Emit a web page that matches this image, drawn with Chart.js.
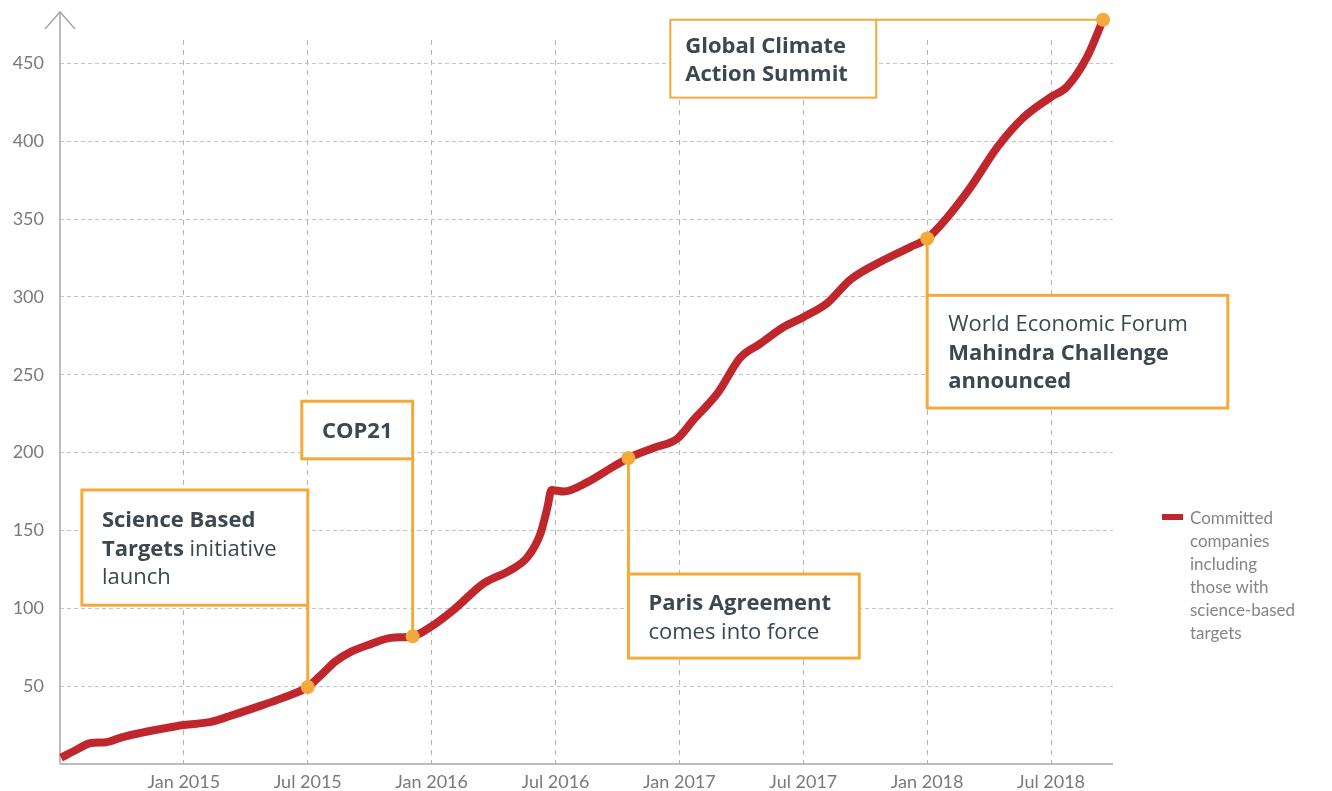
<!DOCTYPE html>
<html>
<head>
<meta charset="utf-8">
<script src="https://cdn.jsdelivr.net/npm/chart.js@4/dist/chart.umd.min.js"></script>
<style>
  body { margin: 0; background: #fff; font-family: Lato, sans-serif; }
  #wrap { position: relative; width: 1332px; height: 791px; }
  #legend { position: absolute; left: 1162px; top: 506px; display: flex; align-items: flex-start; }
  #legend .swatch { width: 21px; height: 6px; background: #c0272d; margin-top: 8px; margin-right: 7px; }
  #legend .txt { font-size: 17px; line-height: 23px; color: #858585; }
</style>
</head>
<body>
<div id="wrap">
  <canvas id="chart"></canvas>
  <div id="legend">
    <span class="swatch"></span>
    <div class="txt">Committed<br>companies<br>including<br>those with<br>science-based<br>targets</div>
  </div>
</div>
<script>
// x values are months counted from Jan 2014 (12 = Jan 2015)
const months = [6.05, 6.77, 7.5, 8.23, 8.95, 9.92, 10.89, 12, 13.3, 14.27, 15.73, 16.69, 18,
  18.63, 19.35, 20.08, 21.05, 22.02, 23.08, 23.95, 25.06, 26.52, 27.82, 28.65, 29.27, 29.61,
  29.8, 30.39, 31.55, 32.8, 33.53, 34.74, 35.9, 36.68, 37.84, 38.95, 39.92, 41.03, 42, 43.16,
  44.27, 45.87, 47.18, 48, 48.97, 50.08, 51.39, 52.64, 53.95, 54.77, 55.74, 56.52];
const companies = [4, 9, 13.5, 14, 17, 20, 22.5, 25, 27, 31, 37.5, 42, 49.5,
  57, 66, 72, 77, 81, 82, 88, 99, 116, 124.5, 133, 148, 165,
  176, 175, 181, 191, 196.5, 203, 209, 221, 238, 261, 270, 280.5, 287, 296,
  311, 323.5, 332, 337.5, 351, 370, 396, 415, 428, 435, 454, 478];

const xTickMonths = [12, 18, 24, 30, 36, 42, 48, 54];
const xTickLabels = ['Jan 2015', 'Jul 2015', 'Jan 2016', 'Jul 2016', 'Jan 2017', 'Jul 2017', 'Jan 2018', 'Jul 2018'];
const yTickValues = [50, 100, 150, 200, 250, 300, 350, 400, 450];

// milestones on the curve
const eventMonths = [18, 23.08, 33.53, 48, 56.52];
const eventValues = [49.5, 82, 196.5, 337.5, 478];

const orange = '#f4aa3a';
const red = '#c0272d';
const noteFont = '"Open Sans"';

// callout boxes in data units: [left month, right month, top value, bottom value]
const callouts = [
  { box: [7.06, 18, 176, 102], link: 'v', pad: 20, align: 'left',
    lines: [[['Science Based', true]], [['Targets', true], [' initiative', false]], [['launch', false]]] },
  { box: [17.71, 23.08, 233, 196], link: 'v', pad: 0, align: 'center',
    lines: [[['COP21', true]]] },
  { box: [33.53, 44.71, 122, 68], link: 'v', pad: 20, align: 'left',
    lines: [[['Paris Agreement', true]], [['comes into force', false]]] },
  { box: [48, 62.56, 301, 228.6], link: 'v', pad: 21, align: 'left',
    lines: [[['World Economic Forum', false]], [['Mahindra Challenge', true]], [['announced', true]]] },
  { box: [35.56, 45.53, 478, 428], link: 'h', pad: 15, align: 'left',
    lines: [[['Global Climate', true]], [['Action Summit', true]]] }
];

const axesAndNotes = {
  id: 'axesAndNotes',
  beforeDatasetsDraw(chart) {
    const { ctx, chartArea: a } = chart;
    ctx.save();
    ctx.strokeStyle = '#a8a8a8';
    ctx.lineWidth = 1.5;
    ctx.beginPath();
    ctx.moveTo(a.left, a.bottom);
    ctx.lineTo(a.left, a.top - 28);
    ctx.moveTo(a.left - 15, a.top - 11);
    ctx.lineTo(a.left, a.top - 28);
    ctx.lineTo(a.left + 15, a.top - 11);
    ctx.moveTo(a.left, a.bottom);
    ctx.lineTo(a.right, a.bottom);
    ctx.stroke();
    ctx.restore();
  },
  afterDatasetsDraw(chart) {
    const { ctx, scales: { x, y } } = chart;
    ctx.save();
    callouts.forEach((c, i) => {
      const px = x.getPixelForValue(eventMonths[i]);
      const py = y.getPixelForValue(eventValues[i]);
      const l = x.getPixelForValue(c.box[0]), r = x.getPixelForValue(c.box[1]);
      const t = y.getPixelForValue(c.box[2]), b = y.getPixelForValue(c.box[3]);

      ctx.strokeStyle = orange;
      ctx.lineWidth = 3;
      ctx.beginPath();
      if (c.link === 'h') {
        ctx.lineWidth = 2;
        ctx.moveTo(r, py);
        ctx.lineTo(px, py);
      } else if (py > b) {
        ctx.moveTo(px, py);
        ctx.lineTo(px, b);
      } else {
        ctx.moveTo(px, py);
        ctx.lineTo(px, t);
      }
      ctx.stroke();

      ctx.lineWidth = c.link === 'h' ? 2 : 3;
      ctx.fillStyle = '#fff';
      ctx.fillRect(l, t, r - l, b - t);
      ctx.strokeRect(l, t, r - l, b - t);

      // text
      const lh = 28.5;
      let ly = (t + b) / 2 - (c.lines.length - 1) * lh / 2 + 2;
      ctx.textBaseline = 'middle';
      ctx.textAlign = 'left';
      ctx.fillStyle = '#3c4850';
      c.lines.forEach(segs => {
        const widths = segs.map(s => {
          ctx.font = (s[1] ? 'bold ' : '') + '22px ' + noteFont;
          return ctx.measureText(s[0]).width;
        });
        const total = widths.reduce((p, q) => p + q, 0);
        let tx = c.align === 'center' ? (l + r) / 2 - total / 2 : l + c.pad;
        segs.forEach((s, k) => {
          ctx.font = (s[1] ? 'bold ' : '') + '22px ' + noteFont;
          ctx.fillText(s[0], tx, ly);
          tx += widths[k];
        });
        ly += lh;
      });

      ctx.fillStyle = orange;
      ctx.beginPath();
      ctx.arc(px, py, 7, 0, Math.PI * 2);
      ctx.fill();
    });
    ctx.restore();
  }
};

new Chart(document.getElementById('chart'), {
  type: 'line',
  data: {
    datasets: [{
      label: 'Committed companies including those with science-based targets',
      data: months.map((m, i) => ({ x: m, y: companies[i] })),
      borderColor: red,
      borderWidth: 8,
      cubicInterpolationMode: 'monotone',
      pointRadius: 0,
      fill: false,
      clip: false
    }]
  },
  options: {
    responsive: true,
    maintainAspectRatio: false,
    animation: false,
    layout: { padding: { top: 40, right: 219, left: 0, bottom: 0 } },
    plugins: { legend: { display: false }, tooltip: { enabled: false } },
    scales: {
      x: {
        type: 'linear',
        min: 6,
        max: 57,
        afterBuildTicks: s => { s.ticks = xTickMonths.map(v => ({ value: v })); },
        afterFit: s => { s.height = 27; },
        ticks: {
          padding: 7,
          color: '#7a7a7a',
          font: { family: 'Lato', size: 18 },
          maxRotation: 0,
          callback: v => xTickLabels[xTickMonths.indexOf(v)]
        },
        grid: { color: '#b5b5b5', drawTicks: false },
        border: { display: false, dash: [5, 5] }
      },
      y: {
        min: 0,
        max: 465,
        afterBuildTicks: s => { s.ticks = yTickValues.map(v => ({ value: v })); },
        afterFit: s => { s.width = 60; },
        ticks: {
          padding: 16,
          color: '#7a7a7a',
          font: { family: 'Lato', size: 18 },
          callback: v => String(v)
        },
        grid: { color: '#c4c4c4', drawTicks: false },
        border: { display: false, dash: [4, 3] }
      }
    }
  },
  plugins: [axesAndNotes]
});
</script>
</body>
</html>
